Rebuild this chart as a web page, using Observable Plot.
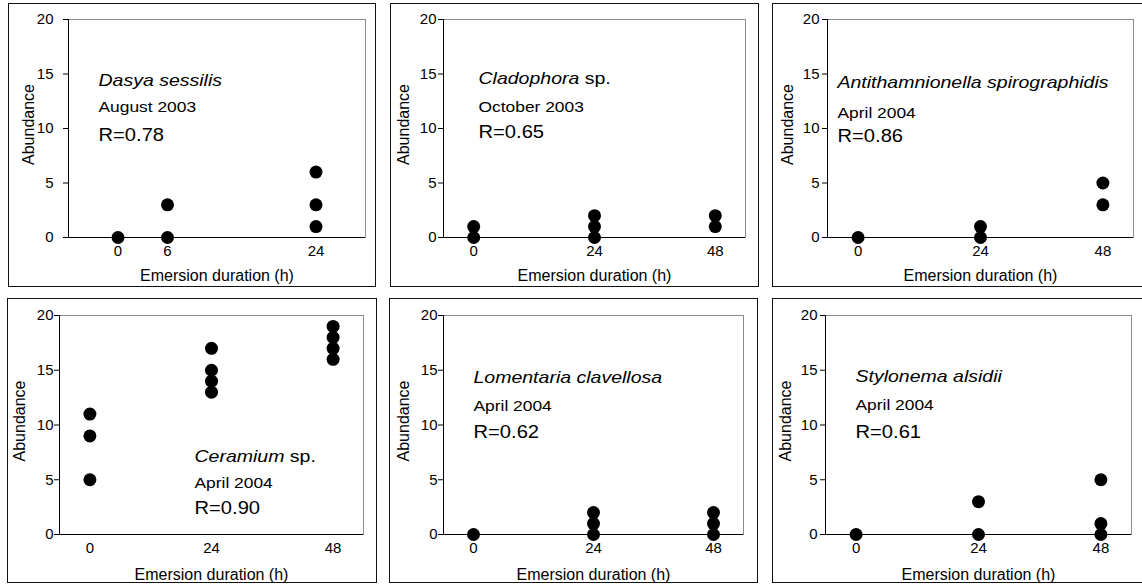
<!DOCTYPE html>
<html><head><meta charset="utf-8">
<script src="https://cdn.jsdelivr.net/npm/d3@7"></script>
<script src="https://cdn.jsdelivr.net/npm/@observablehq/plot@0.6"></script>
<style>
html,body{margin:0;padding:0;background:#fff;width:1142px;height:584px;overflow:hidden;}
#root{position:relative;width:1142px;height:584px;overflow:hidden;background:#fff;}
.panel{position:absolute;box-sizing:border-box;border:1px solid #111;background:#fff;}
.panel svg{display:block;}
</style></head><body><div id="root"></div>
<script>
// ---------- data ----------
const speciesNames = ["Dasya sessilis", "Cladophora", "Antithamnionella spirographidis", "Ceramium", "Lomentaria clavellosa", "Stylonema alsidii"];
const speciesSuffix = ["", " sp.", "", " sp.", "", ""];
const sampleDates = ["August 2003", "October 2003", "April 2004", "April 2004", "April 2004", "April 2004"];
const correlationR = [0.78, 0.65, 0.86, 0.90, 0.62, 0.61];
const durationTicks = [[0, 6, 24], [0, 24, 48], [0, 24, 48], [0, 24, 48], [0, 24, 48], [0, 24, 48]];
const abundanceTicks = [0, 5, 10, 15, 20];
const xAxisTitle = "Emersion duration (h)";
const yAxisTitle = "Abundance";

const dasyaDuration = [0, 6, 6, 24, 24, 24];
const dasyaAbundance = [0, 0, 3, 1, 3, 6];
const cladophoraDuration = [0, 0, 24, 24, 24, 48, 48];
const cladophoraAbundance = [0, 1, 0, 1, 2, 1, 2];
const antithamnionellaDuration = [0, 24, 24, 48, 48];
const antithamnionellaAbundance = [0, 0, 1, 3, 5];
const ceramiumDuration = [0, 0, 0, 24, 24, 24, 24, 48, 48, 48, 48];
const ceramiumAbundance = [5, 9, 11, 13, 14, 15, 17, 16, 17, 18, 19];
const lomentariaDuration = [0, 24, 24, 24, 48, 48, 48];
const lomentariaAbundance = [0, 0, 1, 2, 0, 1, 2];
const stylonemaDuration = [0, 24, 24, 48, 48, 48];
const stylonemaAbundance = [0, 0, 3, 0, 1, 5];

const durations = [dasyaDuration, cladophoraDuration, antithamnionellaDuration, ceramiumDuration, lomentariaDuration, stylonemaDuration];
const abundances = [dasyaAbundance, cladophoraAbundance, antithamnionellaAbundance, ceramiumAbundance, lomentariaAbundance, stylonemaAbundance];

// ---------- scales & layout ----------
const durationDomains = [[-6, 30], [-6, 54], [-6, 54], [-6, 54], [-6, 54], [-6, 54]];
const abundanceDomain = [0, 20];
const layout = [
  {left: 8,   top: 3,   w: 368, h: 284, ml: 59, mr: 10, mt: 15, mb: 49, ytp: 10, ax: 30,  ay: [66, 92, 121],  tdy: 43},
  {left: 390, top: 3,   w: 369, h: 284, ml: 52, mr: 13, mt: 15, mb: 49, ytp: 2,  ax: 35,  ay: [64, 92, 118],  tdy: 43},
  {left: 772, top: 3,   w: 372, h: 284, ml: 54, mr: 10, mt: 15, mb: 49, ytp: 3,  ax: 10,  ay: [68, 98, 122],  tdy: 43},
  {left: 7,   top: 298, w: 370, h: 285, ml: 51, mr: 13, mt: 16, mb: 48, ytp: 1,  ax: 135, ay: [146, 172, 198], tdy: 45},
  {left: 389, top: 298, w: 369, h: 285, ml: 53, mr: 14, mt: 16, mb: 48, ytp: 1,  ax: 30,  ay: [67, 95, 122],  tdy: 45},
  {left: 772, top: 298, w: 372, h: 285, ml: 52, mr: 12, mt: 16, mb: 48, ytp: 3,  ax: 30,  ay: [66, 94, 122],  tdy: 45}
];
const FONT = "'Liberation Sans', Arial, Helvetica, sans-serif";
const TICK_FONT = 15;

const root = document.getElementById("root");

function stretchText(svg, str, sx) {
  svg.querySelectorAll("text").forEach(t => {
    if (t.textContent === str) {
      t.setAttribute("transform", (t.getAttribute("transform") || "") + ` scale(${sx},1)`);
    }
  });
}

const hasAxisMarks = typeof Plot.axisX === "function";

speciesNames.forEach((name, i) => {
  const L = layout[i];
  const data = durations[i].map((d, k) => ({duration: d, abundance: abundances[i][k]}));
  const fullName = name + speciesSuffix[i];
  const rText = `R=${correlationR[i].toFixed(2)}`;
  const xDom = durationDomains[i];
  const xAxisOpts = {ticks: durationTicks[i], tickFormat: d => String(d), tickSize: 0, tickPadding: 8, label: null};
  const yAxisOpts = {ticks: abundanceTicks, tickFormat: d => String(d), tickSize: 5, tickPadding: L.ytp, label: null};
  const axes = hasAxisMarks ? [
    Plot.axisX({...xAxisOpts, fontSize: TICK_FONT, fill: "#000"}),
    Plot.axisY({...yAxisOpts, fontSize: TICK_FONT, fill: "#000", stroke: "#000"})
  ] : [];
  const svg = Plot.plot({
    width: L.w - 2,
    height: L.h - 2,
    marginLeft: L.ml, marginRight: L.mr, marginTop: L.mt, marginBottom: L.mb,
    style: {fontFamily: FONT, fontSize: TICK_FONT + "px", color: "#000", background: "#fff", overflow: "visible"},
    x: hasAxisMarks ? {domain: xDom} : {domain: xDom, ...xAxisOpts},
    y: hasAxisMarks ? {domain: abundanceDomain} : {domain: abundanceDomain, ...yAxisOpts},
    marks: [
      Plot.frame({stroke: "#8c8c8c", strokeWidth: 1}),
      ...axes,
      Plot.ruleY([abundanceDomain[0]], {stroke: "#000", strokeWidth: 1}),
      Plot.ruleX([xDom[0]], {stroke: "#000", strokeWidth: 1}),
      Plot.dot(data, {x: "duration", y: "abundance", r: 6.5, fill: "#000", stroke: "none"}),
      Plot.text([fullName], {text: d => d, frameAnchor: "top-left", dx: L.ax, dy: L.ay[0], textAnchor: "start", lineAnchor: "bottom", fontSize: 16, fontStyle: "italic", fill: "#000"}),
      Plot.text([sampleDates[i]], {text: d => d, frameAnchor: "top-left", dx: L.ax, dy: L.ay[1], textAnchor: "start", lineAnchor: "bottom", fontSize: 14.5, fill: "#000"}),
      Plot.text([rText], {text: d => d, frameAnchor: "top-left", dx: L.ax, dy: L.ay[2], textAnchor: "start", lineAnchor: "bottom", fontSize: 18, fill: "#000"}),
      Plot.text([xAxisTitle], {text: d => d, frameAnchor: "bottom", dy: L.tdy, textAnchor: "middle", lineAnchor: "bottom", fontSize: 16, fill: "#000"}),
      Plot.text([yAxisTitle], {text: d => d, frameAnchor: "left", dx: -34.5, dy: -4, rotate: -90, textAnchor: "middle", lineAnchor: "bottom", fontSize: 16, fill: "#000"})
    ]
  });
  // tick label font size fallback
  svg.querySelectorAll('g[aria-label="x-axis tick label"], g[aria-label="y-axis tick label"], g[aria-label="x-axis"], g[aria-label="y-axis"]').forEach(g => {
    g.setAttribute("font-size", TICK_FONT);
  });
  // italic genus, upright "sp."
  if (speciesSuffix[i]) {
    svg.querySelectorAll("text").forEach(t => {
      if (t.textContent === fullName) {
        t.textContent = "";
        const a = document.createElementNS("http://www.w3.org/2000/svg", "tspan");
        a.textContent = name;
        const b = document.createElementNS("http://www.w3.org/2000/svg", "tspan");
        b.setAttribute("font-style", "normal");
        b.textContent = speciesSuffix[i];
        t.appendChild(a); t.appendChild(b);
      }
    });
  }
  stretchText(svg, fullName, 1.22);
  stretchText(svg, sampleDates[i], 1.2);
  stretchText(svg, rText, 1.12);
  const div = document.createElement("div");
  div.className = "panel";
  div.style.left = L.left + "px";
  div.style.top = L.top + "px";
  div.style.width = L.w + "px";
  div.style.height = L.h + "px";
  div.appendChild(svg);
  root.appendChild(div);
});
</script></body></html>
